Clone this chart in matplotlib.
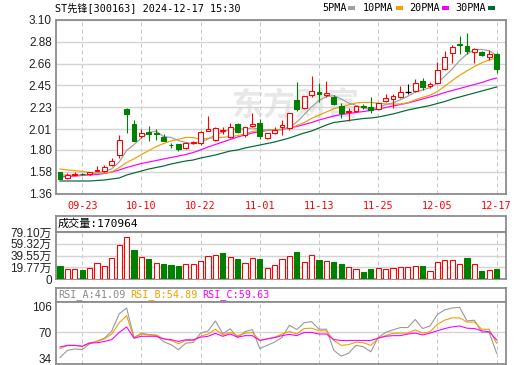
import matplotlib
matplotlib.use('Agg')
import matplotlib.pyplot as plt
from matplotlib.patches import Rectangle
import numpy as np

# === Data (daily candles 09-18 .. 12-17) ===
date_labels = ['09-23', '10-10', '10-22', '11-01', '11-13', '11-25', '12-05', '12-17']
date_pos = [3, 11, 19, 27, 35, 43, 51, 59]
price_labels = ['1.36', '1.58', '1.80', '2.01', '2.23', '2.45', '2.66', '2.88', '3.10']

opens = [1.58, 1.52, 1.55, 1.565, 1.56, 1.59, 1.59, 1.65, 1.75, 2.21,
         2.06, 1.94, 1.98, 1.97, 1.93, 1.855, 1.86, 1.82, 1.875, 1.87,
         1.99, 1.90, 1.995, 1.93, 2.06, 1.95, 2.04, 2.07, 1.92, 1.97,
         2.03, 2.02, 2.30, 2.22, 2.35, 2.38, 2.35, 2.33, 2.24, 2.18,
         2.19, 2.24, 2.23, 2.21, 2.29, 2.31, 2.33, 2.38, 2.39, 2.49,
         2.44, 2.47, 2.61, 2.77, 2.86, 2.84, 2.78, 2.78, 2.73, 2.76]
highs = [1.58, 1.57, 1.58, 1.57, 1.58, 1.64, 1.65, 1.72, 1.95, 2.22,
         2.10, 2.01, 2.04, 2.01, 1.96, 1.87, 1.86, 1.88, 1.89, 1.99,
         2.14, 2.03, 2.03, 2.07, 2.07, 2.03, 2.17, 2.11, 1.97, 2.03,
         2.10, 2.17, 2.48, 2.34, 2.54, 2.47, 2.49, 2.35, 2.27, 2.22,
         2.24, 2.26, 2.33, 2.27, 2.36, 2.36, 2.44, 2.46, 2.51, 2.52,
         2.48, 2.68, 2.79, 2.85, 2.94, 2.97, 2.82, 2.79, 2.80, 2.77]
lows = [1.51, 1.51, 1.54, 1.55, 1.55, 1.59, 1.58, 1.64, 1.72, 1.97,
        1.89, 1.92, 1.89, 1.90, 1.89, 1.82, 1.79, 1.81, 1.86, 1.85,
        1.99, 1.89, 1.96, 1.92, 1.97, 1.93, 2.03, 1.91, 1.91, 1.96,
        1.95, 2.00, 2.19, 2.21, 2.33, 2.28, 2.33, 2.25, 2.12, 2.09,
        2.18, 2.21, 2.17, 2.20, 2.28, 2.22, 2.32, 2.36, 2.38, 2.40,
        2.42, 2.46, 2.60, 2.67, 2.76, 2.76, 2.67, 2.74, 2.70, 2.57]
closes = [1.51, 1.55, 1.56, 1.56, 1.58, 1.60, 1.63, 1.69, 1.90, 2.16,
          1.89, 1.97, 1.96, 1.96, 1.89, 1.85, 1.81, 1.87, 1.88, 1.98,
          2.01, 2.02, 2.00, 2.03, 1.98, 2.03, 2.06, 1.94, 1.97, 2.00,
          2.05, 2.17, 2.21, 2.34, 2.39, 2.36, 2.37, 2.26, 2.17, 2.19,
          2.24, 2.23, 2.20, 2.27, 2.32, 2.34, 2.38, 2.38, 2.47, 2.43,
          2.46, 2.60, 2.73, 2.83, 2.85, 2.79, 2.81, 2.75, 2.76, 2.61]

ma5 = [1.55, 1.55, 1.55, 1.55, 1.552, 1.57, 1.586, 1.612, 1.68, 1.796,
       1.854, 1.922, 1.976, 1.988, 1.934, 1.926, 1.894, 1.876, 1.86, 1.878,
       1.91, 1.952, 1.978, 2.008, 2.008, 2.012, 2.02, 2.008, 1.996, 2.0,
       2.004, 2.026, 2.08, 2.154, 2.232, 2.294, 2.334, 2.344, 2.31, 2.27,
       2.246, 2.218, 2.206, 2.226, 2.252, 2.272, 2.302, 2.338, 2.378, 2.40,
       2.424, 2.468, 2.538, 2.61, 2.694, 2.76, 2.802, 2.806, 2.792, 2.744]
ma10 = [1.61, 1.60, 1.595, 1.585, 1.575, 1.57, 1.57, 1.58, 1.625, 1.674,
        1.712, 1.754, 1.794, 1.834, 1.865, 1.89, 1.908, 1.926, 1.924, 1.906,
        1.918, 1.923, 1.927, 1.934, 1.943, 1.961, 1.986, 1.993, 2.002, 2.004,
        2.008, 2.023, 2.044, 2.075, 2.116, 2.149, 2.18, 2.212, 2.232, 2.251,
        2.27, 2.276, 2.275, 2.268, 2.261, 2.259, 2.26, 2.272, 2.302, 2.326,
        2.348, 2.385, 2.438, 2.494, 2.547, 2.592, 2.635, 2.672, 2.701, 2.719]
ma20 = [1.53, 1.535, 1.54, 1.545, 1.55, 1.555, 1.565, 1.58, 1.60, 1.625,
        1.645, 1.665, 1.68, 1.695, 1.71, 1.725, 1.74, 1.755, 1.775, 1.80,
        1.83, 1.855, 1.88, 1.905, 1.93, 1.95, 1.97, 1.985, 1.995, 2.0,
        2.005, 2.02, 2.035, 2.055, 2.075, 2.10, 2.12, 2.14, 2.155, 2.165,
        2.175, 2.185, 2.195, 2.21, 2.225, 2.24, 2.255, 2.27, 2.29, 2.31,
        2.33, 2.35, 2.375, 2.395, 2.415, 2.435, 2.455, 2.475, 2.50, 2.52]
ma30 = [1.49, 1.49, 1.49, 1.49, 1.49, 1.495, 1.50, 1.51, 1.52, 1.55,
        1.57, 1.59, 1.61, 1.625, 1.64, 1.66, 1.675, 1.69, 1.70, 1.72,
        1.735, 1.75, 1.77, 1.79, 1.80, 1.82, 1.835, 1.85, 1.865, 1.88,
        1.90, 1.92, 1.945, 1.97, 1.99, 2.02, 2.05, 2.075, 2.085, 2.095,
        2.105, 2.115, 2.12, 2.13, 2.145, 2.16, 2.18, 2.20, 2.215, 2.23,
        2.245, 2.265, 2.285, 2.31, 2.33, 2.35, 2.37, 2.39, 2.41, 2.43]

# volume in 10k (万) shares, and whether the bar is drawn as "up" (red)
volume = [22.5, 17.5, 17.5, 15.8, 19.2, 27.6, 22.0, 35.5, 58.0, 71.0,
          49.6, 37.7, 34.4, 27.6, 25.9, 24.2, 22.5, 25.9, 25.9, 31.0,
          39.4, 40.6, 43.4, 37.7, 34.4, 27.6, 35.5, 34.4, 19.2, 23.7,
          34.4, 39.4, 46.2, 29.3, 41.1, 32.7, 31.0, 29.3, 25.9, 20.8,
          17.5, 12.4, 17.5, 19.2, 17.5, 19.2, 20.8, 20.8, 22.5, 22.5,
          14.1, 29.3, 32.7, 32.7, 25.9, 36.1, 25.9, 14.1, 15.8, 17.1]
vol_up = [0, 1, 1, 0, 1, 1, 1, 1, 1, 1,
          0, 1, 0, 1, 0, 0, 0, 1, 1, 1,
          1, 1, 0, 1, 0, 1, 1, 0, 1, 1,
          1, 1, 0, 1, 1, 0, 1, 0, 0, 1,
          1, 0, 0, 1, 1, 1, 1, 1, 1, 0,
          1, 1, 1, 1, 1, 0, 1, 0, 1, 0]
vol_ticks = [0, 19.77, 39.55, 59.32, 79.10]
vol_last = 170964

rsi_a = [35, 45, 47, 46, 54, 58, 62, 72, 96, 104,
         63, 69, 67, 66, 57, 53, 46, 55, 56, 69,
         72, 86, 68, 75, 63, 71, 74, 47.5, 52, 56.5,
         63, 80, 74, 83.5, 85, 74.5, 74.5, 45, 37, 41,
         52, 50, 43, 63, 70, 73.6, 76.8, 76.8, 88, 75.4,
         79, 95, 101.5, 104, 105, 86, 87, 70, 70, 41.09]
rsi_b = [47.5, 52, 52, 50.7, 55.6, 57.4, 61, 67.8, 83.5, 93.4,
         62, 67.8, 66.4, 66.4, 61, 58.8, 54.3, 58.8, 58.8, 64.6,
         67.8, 74.5, 66.4, 70, 65.5, 69, 70, 58.8, 61, 63.3,
         67.8, 71.4, 67.8, 75.4, 75.9, 72.3, 72.3, 58.8, 52, 53,
         56.5, 55.6, 52, 62, 65.5, 68.7, 69.1, 69.1, 73.6, 69.1,
         70.9, 81.3, 87.1, 90.3, 90.3, 84.4, 84.4, 74.5, 74.5, 54.89]
rsi_c = [49.8, 52, 52, 50.7, 55.2, 55.6, 57.4, 60, 70, 77.7,
         62, 64.6, 64.6, 64.6, 61, 60, 57.4, 59.7, 59.7, 63.3,
         64.6, 68.7, 64.6, 67.8, 63.3, 65.5, 65.5, 58.8, 61, 62.8,
         65.5, 67.3, 65.5, 70, 70, 67.8, 67.8, 60, 58.8, 58.8,
         58.8, 58.8, 58.8, 62, 64.6, 65.5, 65.5, 67.8, 69.1, 66.4,
         69.1, 72.3, 75.4, 77.7, 79, 75.9, 75.4, 72.3, 70.9, 59.63]
rsi_ticks = [34, 70, 106]

# === Style ===
W, H = 520, 365
RED, GREEN, BLACK = '#ff0000', '#008000', '#000000'
C_MA5, C_MA10, C_MA20, C_MA30 = '#a0a0a0', '#f0a000', '#ff00ff', '#006a35'
FRAME = '#8c8c8c'
GRID = '#d4d4d4'
MONO = ['DejaVu Sans Mono', 'Noto Sans CJK SC']
SANS = ['Liberation Sans', 'Noto Sans CJK SC']
PX = 0.72  # one pixel in points

fig = plt.figure(figsize=(W / 100, H / 100), dpi=100)


def box(x0, y0, x1, y1):
    # pixel box (top-left origin) -> figure fraction rect
    return [x0 / W, 1 - y1 / H, (x1 - x0) / W, (y1 - y0) / H]


def fig_text(x, y, s, **kw):
    fig.text(x / W, 1 - y / H, s, va='center', **kw)


def frame(a):
    for sp in a.spines.values():
        sp.set_color(FRAME)
        sp.set_linewidth(1.3)


ax = fig.add_axes(box(56, 20, 506, 194))
ax_vb = fig.add_axes(box(56, 216, 506, 232))
ax_v = fig.add_axes(box(56, 232, 506, 279.3))
ax_rb = fig.add_axes(box(56, 288.3, 506, 301.7))
ax_r = fig.add_axes(box(56, 301.7, 506, 364))

n = len(closes)
x = np.arange(n)
o, h, l, c = (np.array(v) for v in (opens, highs, lows, closes))
XL = (-0.54, 60.27)

for a in (ax, ax_vb, ax_v, ax_rb, ax_r):
    frame(a)
    a.set_xlim(*XL)
    a.set_facecolor('white')
for a in (ax_vb, ax_rb):
    a.set_xticks([])
    a.set_yticks([])

# --- price panel ---
ax.set_ylim(1.36, 3.10)
ax.set_yticks([float(v) for v in price_labels])
ax.set_yticklabels(price_labels, family=SANS, fontsize=8.5, color='#222222')
ax.set_xticks(date_pos)
ax.set_xticklabels(date_labels, family=MONO, fontsize=7.3, color=RED)
ax.tick_params(length=0, pad=3)
ax.tick_params(axis='x', pad=5)
ax.grid(axis='y', color=GRID, lw=1.4 * PX)
ax.grid(axis='x', color='#c8c8c8', lw=PX, ls=(0, (4, 3)))
ax.set_axisbelow(True)

ax.text(0.531, 0.5, '东方财富', transform=ax.transAxes, ha='center', va='center',
        fontsize=23, fontweight='bold', color='#e8e8e8', family='Noto Sans CJK SC', zorder=0)

for line, col in ((ma30, C_MA30), (ma20, C_MA20), (ma10, C_MA10), (ma5, C_MA5)):
    ax.plot(x, line, color=col, lw=1.2 * PX, zorder=2)

cols = np.where(c > o, RED, np.where(c < o, GREEN, BLACK))
ax.vlines(x, l, h, colors=cols, lw=1.1 * PX, zorder=3)
body_lo = np.minimum(o, c)
body_h = np.abs(c - o)
flat = body_h < 0.004
face = np.where(c > o, 'white', cols)
ax.bar(x[~flat], body_h[~flat], bottom=body_lo[~flat], width=0.66,
       color=face[~flat], edgecolor=cols[~flat], lw=1.1 * PX, zorder=4)
ax.hlines(c[flat], x[flat] - 0.4, x[flat] + 0.4, colors=cols[flat], lw=1.3 * PX, zorder=4)

# --- volume panel ---
vol = np.array(volume)
vup = np.array(vol_up, dtype=bool)
ax_v.set_ylim(0, vol_ticks[-1])
ax_v.set_yticks(vol_ticks)
ax_v.set_yticklabels(['0'] + [f'{v:.2f}万' for v in vol_ticks[1:]], family=SANS,
                     fontsize=8.5, color='#222222')
ax_v.set_xticks(date_pos)
ax_v.set_xticklabels([])
ax_v.tick_params(length=0, pad=3)
ax_v.grid(axis='y', color=GRID, lw=1.4 * PX)
ax_v.grid(axis='x', color='#c8c8c8', lw=PX, ls=(0, (4, 3)))
ax_v.set_axisbelow(True)
ax_v.bar(x[vup], vol[vup], width=0.7, color='white', edgecolor=RED, lw=1.1 * PX, zorder=3)
ax_v.bar(x[~vup], vol[~vup], width=0.7, color=GREEN, edgecolor=GREEN, lw=1.1 * PX, zorder=3)
ax_vb.text(2 / 450, 0.5, f'成交量:{vol_last}', transform=ax_vb.transAxes, va='center',
           family=MONO, fontsize=8, color='black')

# --- RSI panel ---
ax_r.set_ylim(26, 112.8)
ax_r.set_yticks(rsi_ticks)
ax_r.set_yticklabels([str(v) for v in rsi_ticks], family=SANS, fontsize=8.5, color='#222222')
ax_r.set_xticks(date_pos)
ax_r.set_xticklabels([])
ax_r.tick_params(length=0, pad=3)
ax_r.grid(axis='x', color='#c8c8c8', lw=PX, ls=(0, (4, 3)))
ax_r.axhline(70, color=GRID, lw=1.4 * PX, zorder=1)
ax_r.set_axisbelow(True)
ax_r.plot(x, rsi_a, color='#999999', lw=1.1 * PX, zorder=3)
ax_r.plot(x, rsi_b, color='#f0a000', lw=1.1 * PX, zorder=3)
ax_r.plot(x, rsi_c, color='#ff00ff', lw=1.1 * PX, zorder=3)
for xp, lab, val, col in ((58, 'RSI_A', rsi_a[-1], '#8a8a8a'),
                          (130, 'RSI_B', rsi_b[-1], '#f0a000'),
                          (202, 'RSI_C', rsi_c[-1], '#ff00ff')):
    fig_text(xp, 295, f'{lab}:{val:.2f}', family=MONO, fontsize=7.3, color=col)

# --- header ---
fig_text(55, 8, 'ST先锋[300163] 2024-12-17 15:30', family=MONO, fontsize=7.3, color='black')
for tx, mx, lab, col in ((322, 348, '5PMA', C_MA5), (363, 396, '10PMA', C_MA10),
                         (409, 442, '20PMA', C_MA20), (455, 488, '30PMA', C_MA30)):
    fig_text(tx, 8, lab, family=MONO, fontsize=7.3, color='black')
    fig.patches.append(Rectangle((mx / W, 1 - 9.5 / H), 6.5 / W, 3.5 / H,
                                 transform=fig.transFigure, color=col, lw=0))

fig.savefig('out.png', dpi=100)
